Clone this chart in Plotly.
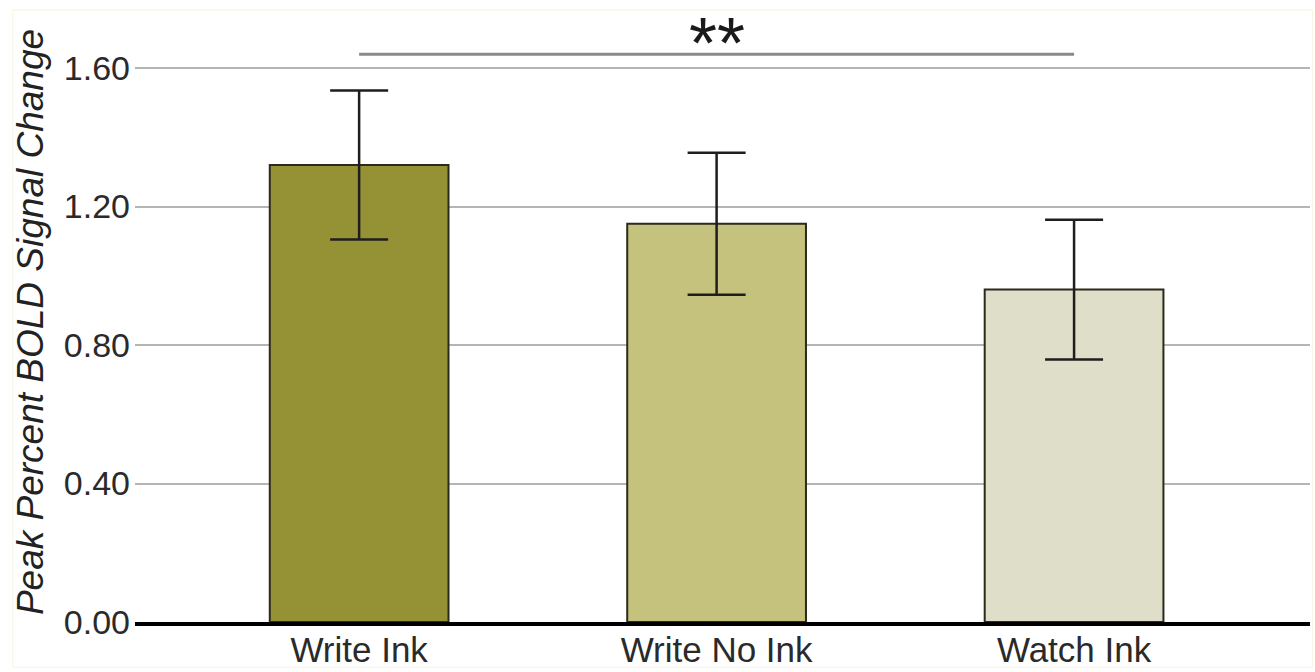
import plotly.graph_objects as go

categories = ["Write Ink", "Write No Ink", "Watch Ink"]
means = [1.32, 1.15, 0.96]
errors = [0.215, 0.205, 0.202]
bar_colors = ["#959236", "#c4c27d", "#dfdfc9"]
y_ticks = [0.0, 0.4, 0.8, 1.2, 1.6]
y_tick_labels = ["0.00", "0.40", "0.80", "1.20", "1.60"]
sig_from, sig_to, sig_y, sig_label = 0, 2, 1.64, "**"

fig = go.Figure()
fig.add_trace(go.Bar(
    x=list(range(len(categories))), y=means, width=0.5,
    marker=dict(color=bar_colors, line=dict(color="#2b2a1c", width=2)),
    error_y=dict(type="data", array=errors, visible=True, thickness=2.5, width=29, color="#1e1e1e"),
    showlegend=False,
))

# significance bracket
fig.add_trace(go.Scatter(
    x=[sig_from, sig_to], y=[sig_y, sig_y], mode="lines",
    line=dict(color="#8a8a8a", width=3), showlegend=False, hoverinfo="skip",
))
fig.add_annotation(x=(sig_from + sig_to) / 2, xref="x", yref="paper", y=1.0, yshift=9, text=sig_label,
                   showarrow=False, yanchor="top",
                   font=dict(family="Liberation Sans, Arial", size=72, color="#1a1a1a"))

fig.add_annotation(xref="paper", yref="paper", x=-0.0894, y=0.49, xanchor="center", yanchor="middle",
                   textangle=-90,
                   text="<i>Peak Percent BOLD Signal Change</i>", showarrow=False,
                   font=dict(family="Liberation Sans, Arial", size=37, color="#222222"))

fig.update_layout(
    width=1315, height=672,
    margin=dict(l=135, r=5, t=10, b=50, autoexpand=False),
    plot_bgcolor="white", paper_bgcolor="white",
    bargap=0.5,
    font=dict(family="Liberation Sans, Arial", color="#2a2a2a"),
)
fig.update_xaxes(
    range=[-0.627, 2.66], tickmode="array", tickvals=list(range(len(categories))), ticktext=categories,
    tickfont=dict(size=35, color="#2a2a2a"), showgrid=False, showline=True, linecolor="black", linewidth=4,
    ticks="", zeroline=False, automargin=False, ticklabelstandoff=-6,
)
fig.update_yaxes(
    range=[0, 1.7675], tickmode="array", tickvals=y_ticks, ticktext=y_tick_labels,
    tickfont=dict(size=34, color="#2a2a2a"), showgrid=True, gridcolor="#b5b5b5", gridwidth=2,
    zeroline=False, showline=False, ticks="", ticklabelstandoff=4, automargin=False,
)
fig.add_shape(type="rect", xref="paper", yref="paper", x0=-0.104, x1=1.002, y0=-0.074, y1=1.0,
              line=dict(color="#f8f4dc", width=1), layer="below")

fig.write_html("out.html", config={"displayModeBar": False},
               post_script="document.body.style.margin='0';document.body.style.overflow='hidden';")
